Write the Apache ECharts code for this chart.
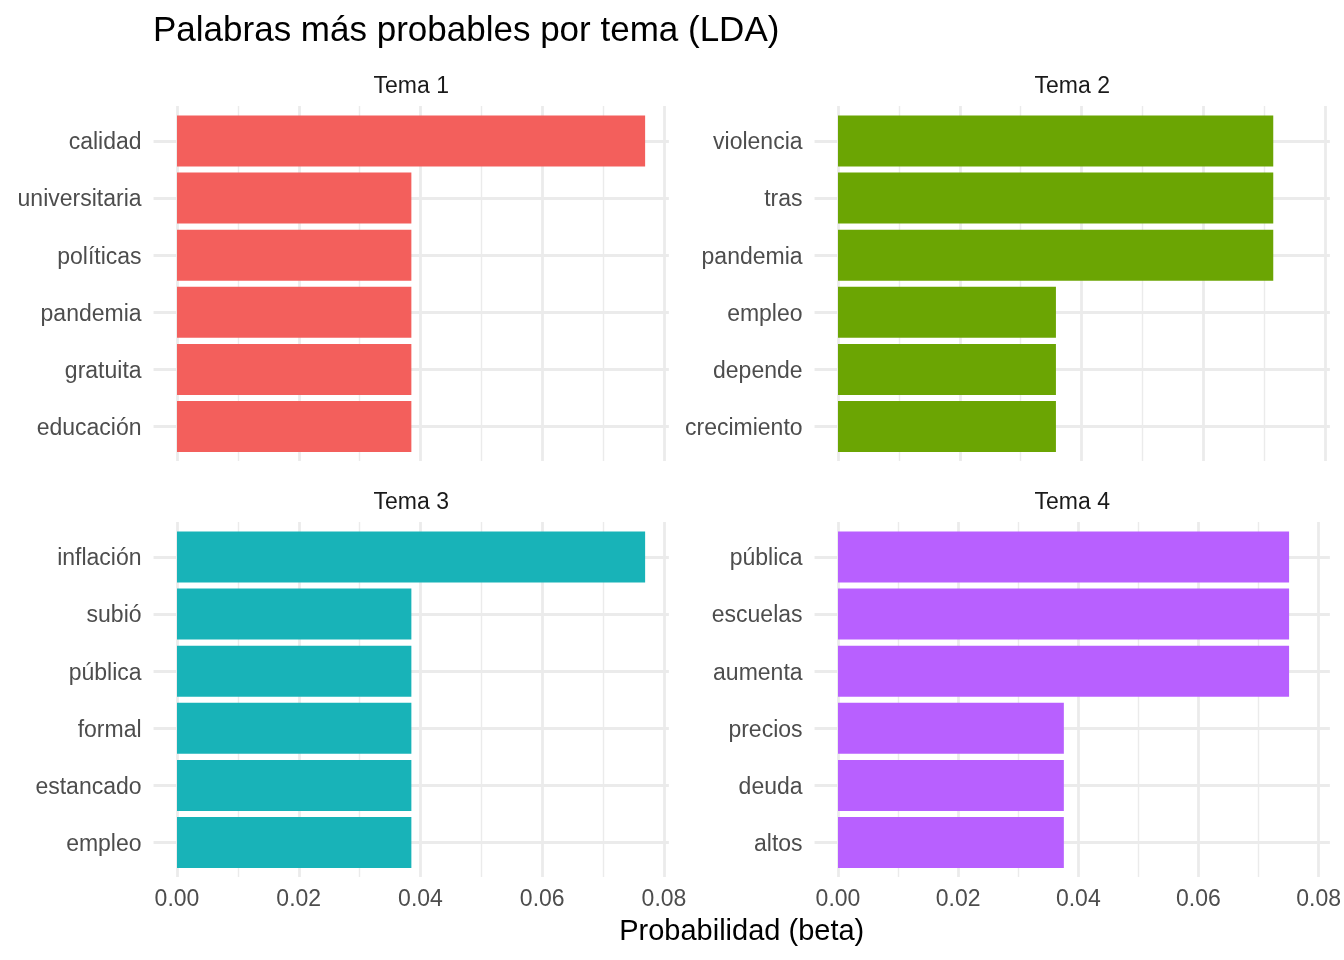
<!DOCTYPE html>
<html>
<head>
<meta charset="utf-8">
<title>Palabras más probables por tema (LDA)</title>
<script src="https://cdn.jsdelivr.net/npm/echarts@6/dist/echarts.min.js"></script>
<style>
  html, body { margin: 0; padding: 0; background: #fff; }
  #chart { width: 1344px; height: 960px; }
</style>
</head>
<body>
<div id="chart"></div>
<script>
// datos por tema (beta)
var temas = ['Tema 1', 'Tema 2', 'Tema 3', 'Tema 4'];

var palabras1 = ['calidad', 'universitaria', 'políticas', 'pandemia', 'gratuita', 'educación'];
var beta1 = [0.0769, 0.0385, 0.0385, 0.0385, 0.0385, 0.0385];

var palabras2 = ['violencia', 'tras', 'pandemia', 'empleo', 'depende', 'crecimiento'];
var beta2 = [0.0715, 0.0715, 0.0715, 0.0358, 0.0358, 0.0358];

var palabras3 = ['inflación', 'subió', 'pública', 'formal', 'estancado', 'empleo'];
var beta3 = [0.0769, 0.0385, 0.0385, 0.0385, 0.0385, 0.0385];

var palabras4 = ['pública', 'escuelas', 'aumenta', 'precios', 'deuda', 'altos'];
var beta4 = [0.0741, 0.0741, 0.0741, 0.0371, 0.0371, 0.0371];

var colores = ['#F35F5C', '#6BA503', '#18B3B8', '#B860FF'];
var xTicks = [0, 0.02, 0.04, 0.06, 0.08];

var palabras = [palabras1, palabras2, palabras3, palabras4];
var betas = [beta1, beta2, beta3, beta4];

var chart = echarts.init(document.getElementById('chart'));

var FONT = '"Liberation Sans", Arial, Helvetica, sans-serif';
var GRID = '#EBEBEB';

// geometria de los paneles
var k = 487 / 0.08;              // px por unidad
var xMinB = -0.00385, xMaxB = 0.0808;
var colLeft = [177, 838];        // posicion de x = 0
var rowTop = [106, 522];         // borde superior del panel
var panelH = 355;
var barTop = [141, 557];         // centro de la primera barra
var barSpan = 285.5;

var grids = [], xAxes = [], yAxes = [], series = [], graphics = [];

for (var i = 0; i < 4; i++) {
    var c = i % 2, r = Math.floor(i / 2);
    var bottomRow = r === 1;

    // grid de fondo: lineas verticales
    grids.push({left: colLeft[c], width: 0.08 * k, top: rowTop[r], height: panelH});
    xAxes.push({
        type: 'value', gridIndex: 2 * i, min: xTicks[0], max: xTicks[xTicks.length - 1], interval: 0.02,
        axisLine: {show: false}, axisTick: {show: false},
        axisLabel: {
            show: bottomRow, color: '#4D4D4D', fontSize: 23, fontFamily: FONT, margin: 11,
            formatter: function (v) { return v.toFixed(2); }
        },
        splitLine: {show: true, lineStyle: {color: GRID, width: 2.8}},
        minorTick: {show: false, splitNumber: 2},
        minorSplitLine: {show: true, lineStyle: {color: GRID, width: 1.4}}
    });
    yAxes.push({type: 'value', gridIndex: 2 * i, show: false});

    // grid de barras
    grids.push({
        left: colLeft[c] + xMinB * k, width: (xMaxB - xMinB) * k,
        top: barTop[r], height: barSpan
    });
    xAxes.push({type: 'value', gridIndex: 2 * i + 1, min: xMinB, max: xMaxB, show: false});
    yAxes.push({
        type: 'category', gridIndex: 2 * i + 1, data: palabras[i], inverse: true, boundaryGap: false,
        axisLine: {show: false}, axisTick: {show: false},
        axisLabel: {
            margin: 12,
            formatter: function (v) { return '{w|' + v + '}'; },
            rich: {w: {color: '#4D4D4D', fontSize: 23, fontFamily: FONT, padding: [4, 0, 0, 0]}}
        },
        splitLine: {show: true, lineStyle: {color: GRID, width: 2.8}}
    });

    series.push({
        type: 'bar', name: temas[i], xAxisIndex: 2 * i + 1, yAxisIndex: 2 * i + 1,
        data: betas[i], barWidth: 51, clip: false, silent: true,
        itemStyle: {color: colores[i]}
    });

    // etiqueta de faceta
    var centro = colLeft[c] + (xMinB + xMaxB) / 2 * k;
    graphics.push({
        type: 'text', x: centro, y: rowTop[r] - 19,
        style: {text: temas[i], font: '23px ' + FONT, fill: '#1A1A1A', textAlign: 'center', textVerticalAlign: 'middle'}
    });
}

// titulo y titulo del eje
graphics.push({
    type: 'text', x: 153, y: 31,
    style: {text: 'Palabras más probables por tema (LDA)', font: '35px ' + FONT, fill: '#000', textAlign: 'left', textVerticalAlign: 'middle'}
});
graphics.push({
    type: 'text', x: (colLeft[0] + xMinB * k + colLeft[1] + xMaxB * k) / 2, y: 932,
    style: {text: 'Probabilidad (beta)', font: '29px ' + FONT, fill: '#000', textAlign: 'center', textVerticalAlign: 'middle'}
});

var option = {
    animation: false,
    backgroundColor: '#fff',
    grid: grids,
    xAxis: xAxes,
    yAxis: yAxes,
    series: series,
    graphic: graphics
};

chart.setOption(option);
</script>
</body>
</html>
